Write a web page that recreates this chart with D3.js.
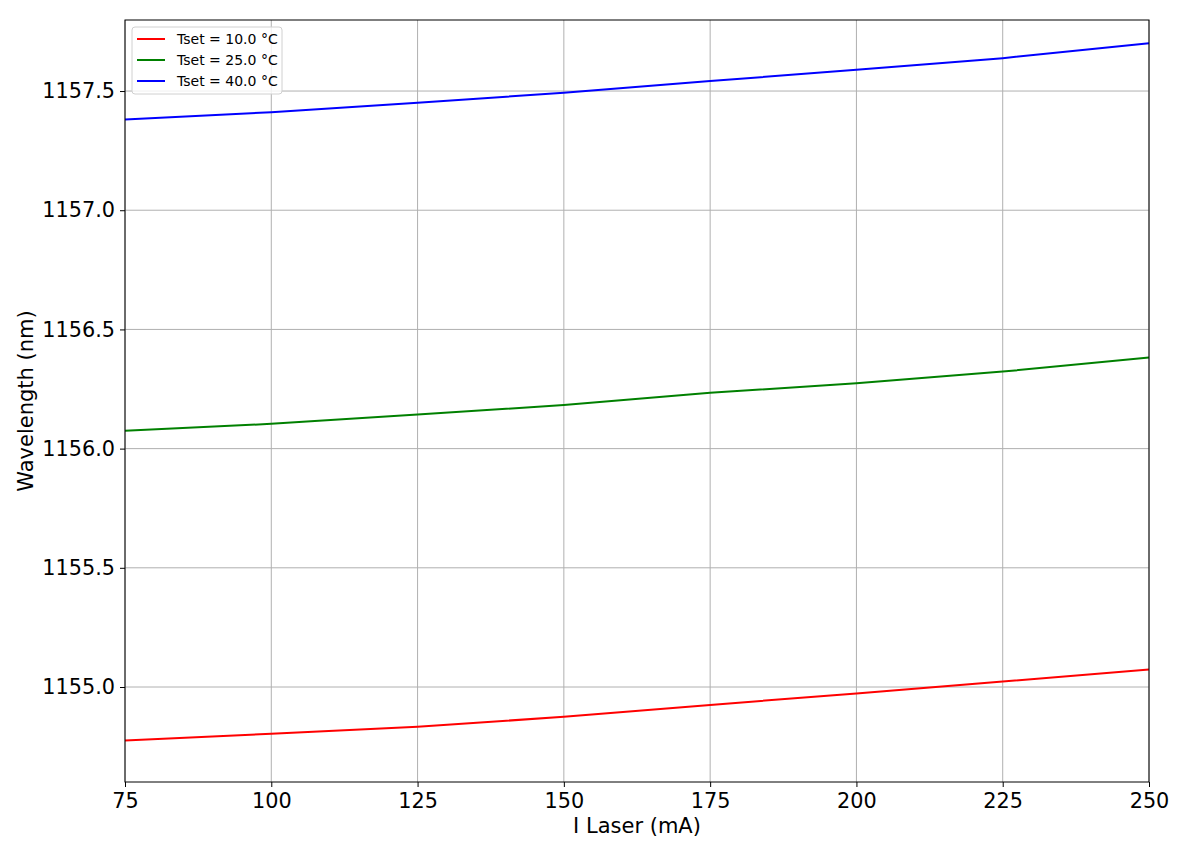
<!DOCTYPE html>
<html><head><meta charset="utf-8">
<script src="https://cdn.jsdelivr.net/npm/d3@7"></script>
<style>body{margin:0;background:#fff}svg{font-family:"DejaVu Sans",sans-serif}</style>
</head><body>
<svg id="c" width="1189" height="846"></svg>
<script>
const currents = [75, 100, 125, 150, 175, 200, 225, 250];
const seriesNames = ["Tset = 10.0 °C", "Tset = 25.0 °C", "Tset = 40.0 °C"];
const seriesColors = ["#ff0000", "#008000", "#0000ff"];
const wl10 = [1154.776, 1154.804, 1154.833, 1154.875, 1154.925, 1154.973, 1155.023, 1155.073];
const wl25 = [1156.075, 1156.104, 1156.143, 1156.183, 1156.234, 1156.274, 1156.323, 1156.382];
const wl40 = [1157.381, 1157.411, 1157.451, 1157.493, 1157.542, 1157.589, 1157.638, 1157.700];
const xTicks = [75, 100, 125, 150, 175, 200, 225, 250];
const yTicks = [1155.0, 1155.5, 1156.0, 1156.5, 1157.0, 1157.5];

const series = [wl10, wl25, wl40];
const svg = d3.select("#c");
const L = 125, R = 1149, T = 20, B = 782;
const x = d3.scaleLinear().domain([75, 250]).range([L, R]);
const y = d3.scaleLinear().domain([1154.6015, 1157.798]).range([B, T]);

// grid
const g = svg.append("g");
g.selectAll(".gx").data(xTicks).join("line")
  .attr("x1", d => x(d)).attr("x2", d => x(d)).attr("y1", T).attr("y2", B)
  .attr("stroke", "#b0b0b0").attr("stroke-width", 1);
g.selectAll(".gy").data(yTicks).join("line")
  .attr("y1", d => y(d)).attr("y2", d => y(d)).attr("x1", L).attr("x2", R)
  .attr("stroke", "#b0b0b0").attr("stroke-width", 1);

// lines
const line = d3.line().x((d, i) => x(currents[i])).y(d => y(d));
series.forEach((s, k) => {
  svg.append("path").datum(s).attr("d", line).attr("fill", "none")
    .attr("stroke", seriesColors[k]).attr("stroke-width", 2);
});

// axes
const xa = svg.append("g").attr("transform", `translate(0,${B})`)
  .call(d3.axisBottom(x).tickValues(xTicks).tickSize(5).tickPadding(5).tickFormat(d3.format("d")));
const ya = svg.append("g").attr("transform", `translate(${L},0)`)
  .call(d3.axisLeft(y).tickValues(yTicks).tickSize(5).tickPadding(5).tickFormat(d3.format(".1f")));
[xa, ya].forEach(a => {
  a.select(".domain").remove();
  a.selectAll("text").attr("font-size", 20.8).attr("font-family", "DejaVu Sans").attr("fill", "#000");
  a.selectAll("line").attr("stroke", "#000");
});
xa.selectAll("text").attr("dy", "0.75em");
// frame
svg.append("rect").attr("x", L).attr("y", T).attr("width", R - L).attr("height", B - T)
  .attr("fill", "none").attr("stroke", "#000").attr("stroke-width", 1);

// labels
svg.append("text").attr("x", (L + R) / 2).attr("y", 833).attr("text-anchor", "middle")
  .attr("font-size", 21).text("I Laser (mA)");
svg.append("text").attr("transform", `translate(33,${(T + B) / 2}) rotate(-90)`)
  .attr("text-anchor", "middle").attr("font-size", 21).text("Wavelength (nm)");

// legend
const lg = svg.append("g").attr("transform", "translate(132,27)");
lg.append("rect").attr("width", 150).attr("height", 67).attr("rx", 3)
  .attr("fill", "#fff").attr("fill-opacity", 0.8).attr("stroke", "#d0d0d0");
seriesNames.forEach((n, k) => {
  const yy = 12 + k * 21;
  lg.append("line").attr("x1", 5).attr("x2", 33).attr("y1", yy).attr("y2", yy)
    .attr("stroke", seriesColors[k]).attr("stroke-width", 2);
  lg.append("text").attr("x", 45).attr("y", yy).attr("dy", "0.35em")
    .attr("font-size", 14).text(n);
});
</script>
</body></html>
